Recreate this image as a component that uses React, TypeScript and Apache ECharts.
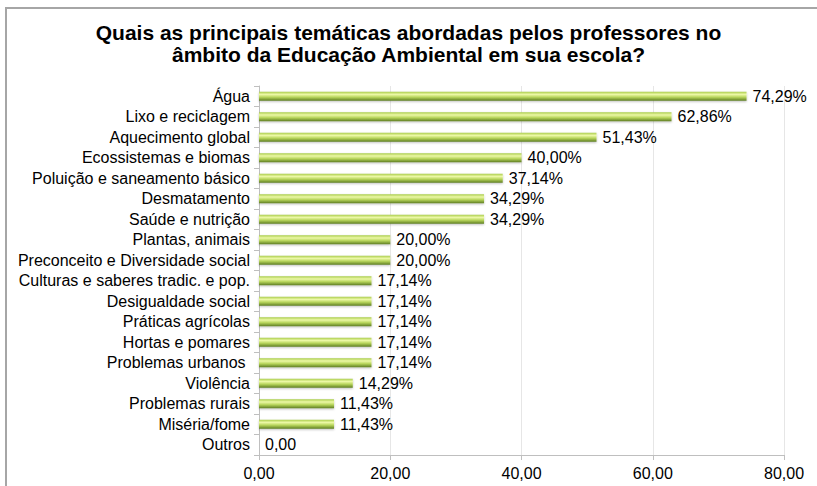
import React, { useEffect, useRef } from "react";
import * as echarts from "echarts";

const categories = [
  "Água",
  "Lixo e reciclagem",
  "Aquecimento global",
  "Ecossistemas e biomas",
  "Poluição e saneamento básico",
  "Desmatamento",
  "Saúde e nutrição",
  "Plantas, animais",
  "Preconceito e Diversidade social",
  "Culturas e saberes tradic. e pop.",
  "Desigualdade social",
  "Práticas agrícolas",
  "Hortas e pomares",
  "Problemas urbanos ",
  "Violência",
  "Problemas rurais",
  "Miséria/fome",
  "Outros",
];
const values = [74.29, 62.86, 51.43, 40.0, 37.14, 34.29, 34.29, 20.0, 20.0, 17.14, 17.14, 17.14, 17.14, 17.14, 14.29, 11.43, 11.43, 0];
const xTicks = [0, 20, 40, 60, 80];

const fmt = (v: number) => v.toFixed(2).replace(".", ",");

export default function App() {
  const ref = useRef<HTMLDivElement>(null);
  useEffect(() => {
    if (!ref.current) return;
    const chart = echarts.init(ref.current, null, { renderer: "svg" });
    const font = "'Liberation Sans', Arial, sans-serif";
    chart.setOption({
      animation: false,
      backgroundColor: "#ffffff",
      title: {
        text: "Quais as principais temáticas abordadas pelos professores no\nâmbito da Educação Ambiental em sua escola?",
        left: "center",
        top: 16,
        textStyle: {
          fontFamily: font,
          fontWeight: "bold",
          fontSize: 21,
          lineHeight: 22,
          color: "#000000",
        },
      },
      graphic: [
        {
          type: "rect",
          shape: { x: 6, y: 8, width: 830, height: 500 },
          style: { fill: "none", stroke: "#a6a6a6", lineWidth: 2 },
          silent: true,
        },
      ],
      grid: { left: 259, right: 33, top: 86, bottom: 31, containLabel: false },
      xAxis: {
        type: "value",
        min: 0,
        max: 80,
        interval: 20,
        axisLine: { show: true, lineStyle: { color: "#bfbfbf" } },
        axisTick: { show: true, length: 5, lineStyle: { color: "#bfbfbf" } },
        splitLine: { show: true, lineStyle: { color: "#e6e6e6" } },
        axisLabel: {
          fontFamily: font,
          fontSize: 16,
          color: "#000000",
          margin: 10,
          formatter: (v: number) => (xTicks.includes(v) ? fmt(v) : ""),
        },
      },
      yAxis: {
        type: "category",
        data: categories,
        inverse: true,
        axisLine: { show: true, lineStyle: { color: "#bfbfbf" } },
        axisTick: { show: true, length: 5, lineStyle: { color: "#bfbfbf" } },
        axisLabel: {
          interval: 0,
          fontFamily: font,
          fontSize: 16,
          color: "#000000",
          margin: 9,
        },
      },
      series: [
        {
          type: "bar",
          data: values,
          barWidth: 9,
          itemStyle: {
            color: new echarts.graphic.LinearGradient(0, 0, 0, 1, [
              { offset: 0, color: "#aacd4c" },
              { offset: 0.3, color: "#ecf8a6" },
              { offset: 0.6, color: "#b8d65c" },
              { offset: 1, color: "#5e7d22" },
            ]),
            shadowColor: "rgba(0,0,0,0.25)",
            shadowBlur: 2,
            shadowOffsetY: 1,
          },
          label: {
            show: true,
            position: "right",
            distance: 6,
            fontFamily: font,
            fontSize: 16,
            color: "#000000",
            formatter: (p: any) => (p.value === 0 ? "0,00" : fmt(p.value) + "%"),
          },
        },
      ],
    });
    return () => chart.dispose();
  }, []);
  return (
    <div
      ref={ref}
      style={{ position: "fixed", left: 0, top: 0, width: 817, height: 486 }}
    />
  );
}
